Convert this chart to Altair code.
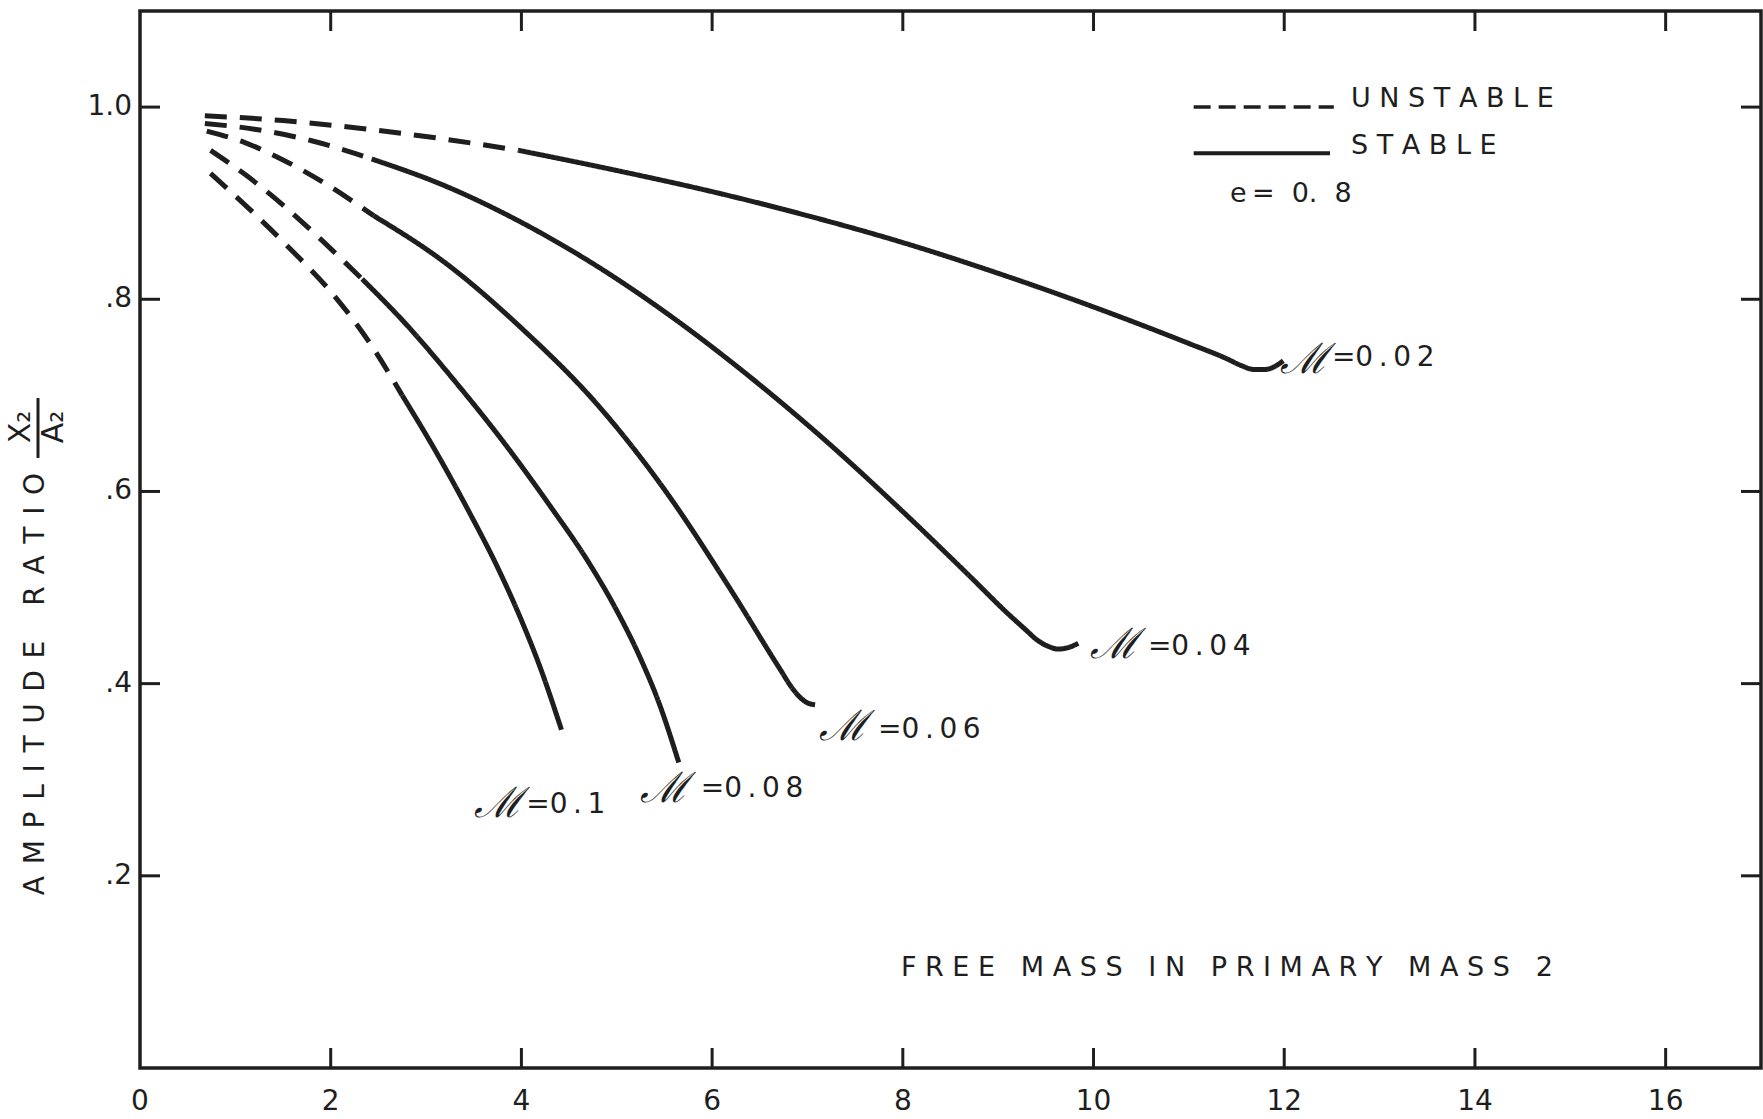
import altair as alt
import pandas as pd

INK = "#1e1e1e"
FONT = "DejaVu Sans"

# ---------------- data ----------------
x_tick_values = [0, 2, 4, 6, 8, 10, 12, 14, 16]
x_tick_labels = ["0", "2", "4", "6", "8", "10", "12", "14", "16"]
x_inner_ticks = [2, 4, 6, 8, 10, 12, 14, 16]
y_tick_values = [1.0, 0.8, 0.6, 0.4, 0.2]
y_tick_labels = ["1.0", ".8", ".6", ".4", ".2"]

mu002_unstable_x = [0.68, 1.50, 2.30, 3.10, 3.97]
mu002_unstable_y = [0.991, 0.986, 0.978, 0.968, 0.955]
mu002_stable_x = [3.97, 5.00, 6.00, 7.00, 8.00, 9.00, 10.00, 11.00, 11.40, 11.55, 11.68, 11.80, 11.90, 11.99]
mu002_stable_y = [0.955, 0.934, 0.912, 0.887, 0.859, 0.827, 0.792, 0.754, 0.738, 0.731, 0.727, 0.727, 0.730, 0.736]

mu004_unstable_x = [0.68, 1.20, 1.80, 2.43]
mu004_unstable_y = [0.983, 0.977, 0.965, 0.946]
mu004_stable_x = [2.43, 3.20, 4.00, 4.80, 5.60, 6.40, 7.20, 8.00, 8.70, 9.10, 9.30, 9.40, 9.52, 9.63, 9.75, 9.84]
mu004_stable_y = [0.946, 0.918, 0.880, 0.834, 0.780, 0.719, 0.652, 0.579, 0.512, 0.473, 0.455, 0.446, 0.439, 0.436, 0.438, 0.442]

mu006_unstable_x = [0.70, 1.10, 1.50, 1.90, 2.45]
mu006_unstable_y = [0.975, 0.963, 0.945, 0.923, 0.887]
mu006_stable_x = [2.45, 3.20, 4.00, 4.80, 5.50, 6.20, 6.70, 6.85, 6.93, 7.00, 7.08]
mu006_stable_y = [0.887, 0.838, 0.770, 0.690, 0.602, 0.497, 0.417, 0.394, 0.385, 0.380, 0.378]

mu008_unstable_x = [0.74, 1.10, 1.50, 1.90, 2.33]
mu008_unstable_y = [0.955, 0.930, 0.898, 0.862, 0.821]
mu008_stable_x = [2.33, 2.80, 3.30, 3.80, 4.30, 4.70, 5.00, 5.25, 5.45, 5.65]
mu008_stable_y = [0.821, 0.773, 0.715, 0.653, 0.585, 0.527, 0.476, 0.426, 0.378, 0.318]

mu01_unstable_x = [0.74, 1.20, 1.60, 2.00, 2.40, 2.75]
mu01_unstable_y = [0.931, 0.889, 0.850, 0.808, 0.756, 0.700]
mu01_stable_x = [2.75, 3.10, 3.45, 3.75, 4.00, 4.20, 4.42]
mu01_stable_y = [0.700, 0.642, 0.579, 0.521, 0.466, 0.416, 0.352]

label_glyph_x = [11.96, 9.96, 7.12, 5.24, 3.50]
label_glyph_y = [0.737, 0.440, 0.355, 0.290, 0.275]
label_eq_values = ["0.02", "0.04", "0.06", "0.08", "0.1"]
label_eq_x = [12.50, 10.57, 7.74, 5.88, 4.05]
label_eq_y = [0.739, 0.438, 0.352, 0.290, 0.274]

legend_text = ["UNSTABLE", "STABLE"]
legend_text_x = [12.70, 12.70]
legend_text_y = [1.008, 0.960]
legend_line_x = [11.05, 11.05]
legend_line_x2 = [12.52, 12.48]
legend_line_y = [1.0, 0.952]

param_text = "e\u2009=\u00a0\u00a00.\u00a0\u00a08"
param_x, param_y = 11.43, 0.910
note_text = "FREE MASS IN PRIMARY MASS 2"
note_x, note_y = 7.98, 0.104
y_title = "AMPLITUDE RATIO"

NB = "\u00a0"


def spaced(s, gap=NB, word_gap=NB * 3):
    return word_gap.join(gap.join(list(w)) for w in s.split(" "))


def eq_label(v):
    # "=0.04" drawn with the wide lettering of the original
    return "=" + "\u2009".join(list(v))


rows = []
for mu, ux, uy, sx, sy in [
    ("0.02", mu002_unstable_x, mu002_unstable_y, mu002_stable_x, mu002_stable_y),
    ("0.04", mu004_unstable_x, mu004_unstable_y, mu004_stable_x, mu004_stable_y),
    ("0.06", mu006_unstable_x, mu006_unstable_y, mu006_stable_x, mu006_stable_y),
    ("0.08", mu008_unstable_x, mu008_unstable_y, mu008_stable_x, mu008_stable_y),
    ("0.1", mu01_unstable_x, mu01_unstable_y, mu01_stable_x, mu01_stable_y),
]:
    for a, b in zip(ux, uy):
        rows.append({"mu": mu, "stability": "unstable", "x": a, "y": b})
    for a, b in zip(sx, sy):
        rows.append({"mu": mu, "stability": "stable", "x": a, "y": b})
curve_df = pd.DataFrame(rows)

W, H = 1621, 1057
xs = alt.Scale(domain=[0, 17], nice=False, zero=False)
ys = alt.Scale(domain=[0, 1.1], nice=False, zero=False)


def X(f):
    return alt.X(f, scale=xs, axis=None)


def Y(f):
    return alt.Y(f, scale=ys, axis=None)


curves = alt.Chart(curve_df).mark_line(
    color=INK, strokeWidth=5, interpolate="monotone", strokeCap="butt"
).encode(
    x=X("x:Q"), y=Y("y:Q"),
    detail="mu:N",
    strokeDash=alt.StrokeDash("stability:N", scale=alt.Scale(
        domain=["unstable", "stable"], range=[[22, 13], [1, 0]]), legend=None),
)

# axis labels
xlab = alt.Chart(pd.DataFrame({"v": x_tick_values, "t": x_tick_labels})).mark_text(
    align="center", baseline="middle", font=FONT, fontSize=28, color=INK).encode(
    x=X("v:Q"), y=alt.value(H + 34), text="t:N")
ylab = alt.Chart(pd.DataFrame({"v": y_tick_values, "t": y_tick_labels})).mark_text(
    align="right", baseline="middle", font=FONT, fontSize=28, color=INK).encode(
    y=Y("v:Q"), x=alt.value(-8), text="t:N")

# inward ticks on all four sides
xt_df = pd.DataFrame({"v": x_inner_ticks})
yt_df = pd.DataFrame({"v": y_tick_values})
tick_bottom = alt.Chart(xt_df).mark_rule(color=INK, strokeWidth=3).encode(
    x=X("v:Q"), y=alt.value(H), y2=alt.value(H - 20))
tick_top = alt.Chart(xt_df).mark_rule(color=INK, strokeWidth=3).encode(
    x=X("v:Q"), y=alt.value(0), y2=alt.value(20))
tick_left = alt.Chart(yt_df).mark_rule(color=INK, strokeWidth=3).encode(
    y=Y("v:Q"), x=alt.value(0), x2=alt.value(20))
tick_right = alt.Chart(yt_df).mark_rule(color=INK, strokeWidth=3).encode(
    y=Y("v:Q"), x=alt.value(W), x2=alt.value(W - 20))

# hand-drawn legend
leg_df = pd.DataFrame({"x": legend_line_x, "x2": legend_line_x2, "y": legend_line_y,
                       "kind": ["unstable", "stable"]})
leg_dash = alt.Chart(leg_df[leg_df.kind == "unstable"]).mark_rule(
    color=INK, strokeWidth=3.5, strokeDash=[17, 8]).encode(
    x=X("x:Q"), x2="x2:Q", y=Y("y:Q"))
leg_solid = alt.Chart(leg_df[leg_df.kind == "stable"]).mark_rule(
    color=INK, strokeWidth=4).encode(
    x=X("x:Q"), x2="x2:Q", y=Y("y:Q"))

text_df = pd.DataFrame({
    "t": [spaced(t) for t in legend_text] + [param_text, spaced(note_text)],
    "x": legend_text_x + [param_x, note_x],
    "y": legend_text_y + [param_y, note_y],
})
texts = alt.Chart(text_df).mark_text(
    align="left", baseline="middle", font=FONT, fontSize=27, color=INK).encode(
    x=X("x:Q"), y=Y("y:Q"), text="t:N")

glyph_df = pd.DataFrame({"x": label_glyph_x, "y": label_glyph_y, "t": ["\u2133"] * 5})
glyphs = alt.Chart(glyph_df).mark_text(
    align="left", baseline="middle", font="DejaVu Serif", fontSize=42,
    fontStyle="italic", color=INK).encode(
    x=X("x:Q"), y=Y("y:Q"), text="t:N")

eq_df = pd.DataFrame({"x": label_eq_x, "y": label_eq_y,
                      "t": [eq_label(v) for v in label_eq_values]})
eqs = alt.Chart(eq_df).mark_text(
    align="left", baseline="middle", font=FONT, fontSize=28, color=INK).encode(
    x=X("x:Q"), y=Y("y:Q"), text="t:N")

# rotated y title with the X2/A2 fraction
one = pd.DataFrame({"t": [spaced(y_title, gap=NB + "\u200a", word_gap=NB * 3 + "\u200a" * 3)]})
ytitle = alt.Chart(one).mark_text(
    align="center", baseline="middle", angle=270, font=FONT, fontSize=28, color=INK).encode(
    x=alt.value(-104), y=alt.value(673), text="t:N")
frac_df = pd.DataFrame({"t": ["X\u2082", "A\u2082"], "px": [-119, -86]})
frac_text = alt.Chart(frac_df).mark_text(
    align="center", baseline="middle", angle=270, font=FONT, fontSize=30, color=INK).encode(
    x=alt.X("px:Q", scale=None, axis=None), y=alt.value(416), text="t:N")
frac_bar = alt.Chart(pd.DataFrame({"a": [0]})).mark_rule(color=INK, strokeWidth=3).encode(
    x=alt.value(-102), y=alt.value(387), y2=alt.value(447))

chart = alt.layer(
    curves, xlab, ylab, tick_bottom, tick_top, tick_left, tick_right,
    leg_dash, leg_solid, texts, glyphs, eqs, ytitle, frac_text, frac_bar,
).properties(
    width=W, height=H,
    autosize=alt.AutoSizeParams(type="none"),
    padding={"left": 140, "top": 11, "right": 2, "bottom": 51},
    background="white",
).configure_view(stroke=INK, strokeWidth=3.5)

chart.save("out.html", embed_options={"renderer": "svg", "actions": False})
